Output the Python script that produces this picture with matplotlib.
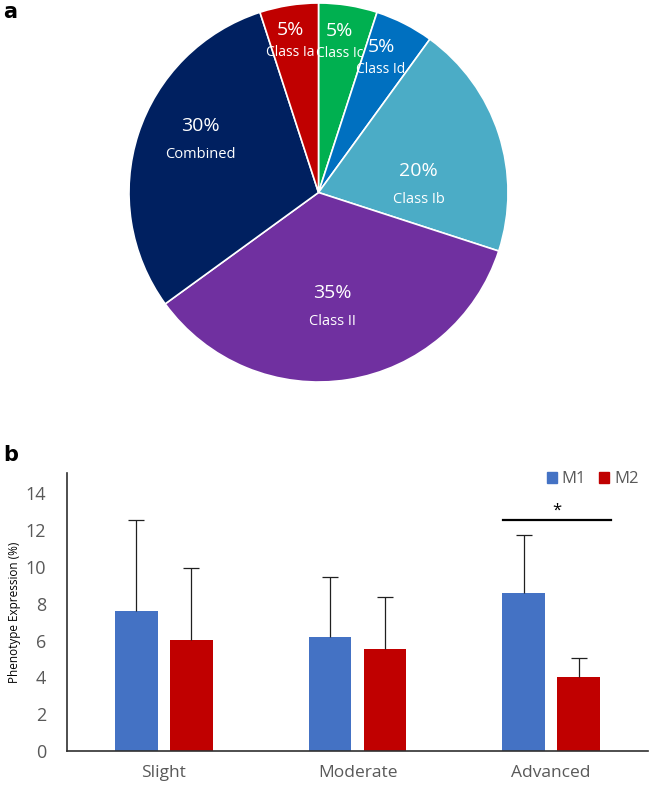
import numpy as np
import matplotlib
matplotlib.use('Agg')
import matplotlib.pyplot as plt
from matplotlib.patches import Patch

plt.rcParams['font.family'] = ['Open Sans', 'DejaVu Sans']

# pie data (clockwise from the top)
pie_labels = ['Class Ic', 'Class Id', 'Class Ib', 'Class II', 'Combined', 'Class Ia']
pie_pct = [5, 5, 20, 35, 30, 5]
pie_colors = ['#00B050', '#0070C0', '#4BACC6', '#7030A0', '#002060', '#C00000']

# bar data
categories = ['Slight', 'Moderate', 'Advanced']
m1 = [7.6, 6.2, 8.6]
m1_err = [4.95, 3.25, 3.15]
m2 = [6.05, 5.55, 4.0]
m2_err = [3.9, 2.8, 1.05]

W, H = 649, 785
fig = plt.figure(figsize=(W / 100, H / 100), dpi=100)

def box(l, t, r, b):
    return [l / W, 1 - b / H, (r - l) / W, (b - t) / H]

# ---- panel a
ax1 = fig.add_axes(box(129, 3, 508, 382))
wedges, _ = ax1.pie(pie_pct, colors=pie_colors, startangle=90, counterclock=False,
                    radius=1, wedgeprops=dict(edgecolor='white', linewidth=1.2))
ax1.set_xlim(-1, 1)
ax1.set_ylim(-1, 1)
ax1.set_aspect('equal')

# label placement: radial distance and angle shift per wedge
lab_r = [0.80, 0.78, 0.53, 0.61, 0.68, 0.81]
lab_dang = [1, 2, -14, -2, -6, 1.5]
big = [False, False, True, True, True, False]
for w, name, pct, r, da, b in zip(wedges, pie_labels, pie_pct, lab_r, lab_dang, big):
    ang = np.deg2rad((w.theta1 + w.theta2) / 2 + da)
    x, y = r * np.cos(ang), r * np.sin(ang)
    off = 0.075 if b else 0.06
    ax1.text(x, y + off, f'{pct}%', color='white', fontsize=14,
             ha='center', va='center')
    ax1.text(x, y - off, name, color='white', fontsize=10.5 if b else 10,
             ha='center', va='center')

fig.text(3 / W, 1 - 2 / H, 'a', fontsize=15, fontweight='bold', va='top',
         family='DejaVu Sans')
fig.text(3 / W, 1 - 445 / H, 'b', fontsize=15, fontweight='bold', va='top',
         family='DejaVu Sans')

# ---- panel b
ax2 = fig.add_axes(box(67, 473, 648, 751))
x = np.arange(len(categories))
bw = 0.22
off = 0.142
ekw = dict(ecolor='#202020', elinewidth=0.9, capsize=5.5, capthick=0.9)
for xs, vals, errs, col, lab in [(x - off, m1, m1_err, '#4472C4', 'M1'),
                                 (x + off, m2, m2_err, '#C00000', 'M2')]:
    bars = ax2.bar(xs, vals, bw, color=col, label=lab,
                   yerr=[np.zeros(len(vals)), errs], error_kw=ekw)
    # hide the cap that sits on top of the bar (zero lower error)
    caplines = bars.errorbar.lines[1]
    caplines[0].set_visible(False)

ax2.set_xlim(-0.5, 2.5)
ax2.set_ylim(0, 15.1)
ax2.set_yticks(range(0, 15, 2))
ax2.set_xticks(x)
ax2.set_xticklabels(categories)
ax2.tick_params(axis='y', length=0, labelsize=13, labelcolor='#595959', pad=15)
ax2.tick_params(axis='x', length=0, labelsize=12.5, labelcolor='#595959', pad=10)
for s in ['top', 'right']:
    ax2.spines[s].set_visible(False)
for s in ['left', 'bottom']:
    ax2.spines[s].set_color('#303030')
    ax2.spines[s].set_linewidth(1.2)
ax2.set_ylabel('Phenotype Expression (%)', fontsize=8.5, color='black', labelpad=3)

# significance bar
ax2.plot([1.75, 2.31], [12.55, 12.55], color='black', lw=1.6)
ax2.text(2.03, 12.6, '*', ha='center', va='bottom', fontsize=12)

handles = [Patch(color='#4472C4'), Patch(color='#C00000')]
ax2.legend(handles, ['M1', 'M2'], loc='upper right', bbox_to_anchor=(1.01, 1.06),
           ncol=2, frameon=False, handlelength=0.6, handleheight=0.6,
           handletextpad=0.3, columnspacing=0.8, labelcolor='#595959', fontsize=12)

fig.savefig('out.png', dpi=100)
